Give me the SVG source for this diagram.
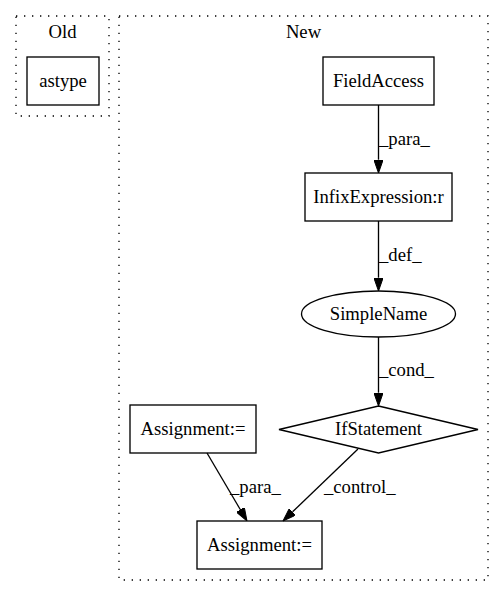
<svg xmlns="http://www.w3.org/2000/svg" width="504" height="596" viewBox="0 0 504 596">
<style>
text{font-family:"Liberation Serif","Times New Roman",serif;font-size:18.67px;fill:#000}
.c{text-anchor:middle}
.cl{fill:none;stroke:#000;stroke-width:1.33;stroke-dasharray:1.33,6.67}
.n{fill:none;stroke:#000;stroke-width:1.33}
.e{fill:none;stroke:#000;stroke-width:1.33}
</style>
<defs>
<marker id="ah" viewBox="0 0 13.3 9.34" refX="0" refY="4.67" markerWidth="13.3" markerHeight="9.34" markerUnits="userSpaceOnUse" orient="auto">
<path d="M0,0 L13.3,4.67 L0,9.34 Z" fill="#000" stroke="#000" stroke-width="1"/>
</marker>
</defs>
<rect width="504" height="596" fill="#fff"/>
<g id="cluster_old">
<rect class="cl" x="16" y="16" width="93" height="100"/>
<text class="c" x="62.5" y="38">Old</text>
</g>
<g id="cluster_new">
<rect class="cl" x="119" y="16" width="369" height="564"/>
<text class="c" x="303.5" y="38">New</text>
</g>
<g id="astype">
<rect class="n" x="27" y="57" width="72" height="48"/>
<text class="c" x="63" y="86.5">astype</text>
</g>
<g id="fieldaccess">
<rect class="n" x="323" y="57" width="111" height="48"/>
<text class="c" x="378.5" y="86.5">FieldAccess</text>
</g>
<g id="infix">
<rect class="n" x="305" y="173" width="147" height="48"/>
<text class="c" x="378.5" y="202.5">InfixExpression:r</text>
</g>
<g id="simplename">
<ellipse class="n" cx="378.5" cy="314" rx="77" ry="23"/>
<text class="c" x="378.5" y="319.5">SimpleName</text>
</g>
<g id="ifstatement">
<polygon class="n" points="378.5,406 478,429.5 378.5,453 279,429.5"/>
<text class="c" x="378.5" y="435">IfStatement</text>
</g>
<g id="assign1">
<rect class="n" x="130" y="405" width="126" height="48"/>
<text class="c" x="193" y="434.5">Assignment:=</text>
</g>
<g id="assign2">
<rect class="n" x="197" y="521" width="125" height="48"/>
<text class="c" x="259.5" y="550.5">Assignment:=</text>
</g>
<g id="edges">
<path class="e" d="M378.5,105 L378.5,159.7" marker-end="url(#ah)"/>
<text x="379" y="145">_para_</text>
<path class="e" d="M378.5,221 L378.5,277.7" marker-end="url(#ah)"/>
<text x="379" y="261">_def_</text>
<path class="e" d="M378.5,337 L378.5,392.7" marker-end="url(#ah)"/>
<text x="379" y="376">_cond_</text>
<path class="e" d="M207,453 L240.25,509.5" marker-end="url(#ah)"/>
<text x="230" y="493">_para_</text>
<path class="e" d="M358,449 L292.6,511.8" marker-end="url(#ah)"/>
<text x="324" y="493">_control_</text>
</g>
</svg>
